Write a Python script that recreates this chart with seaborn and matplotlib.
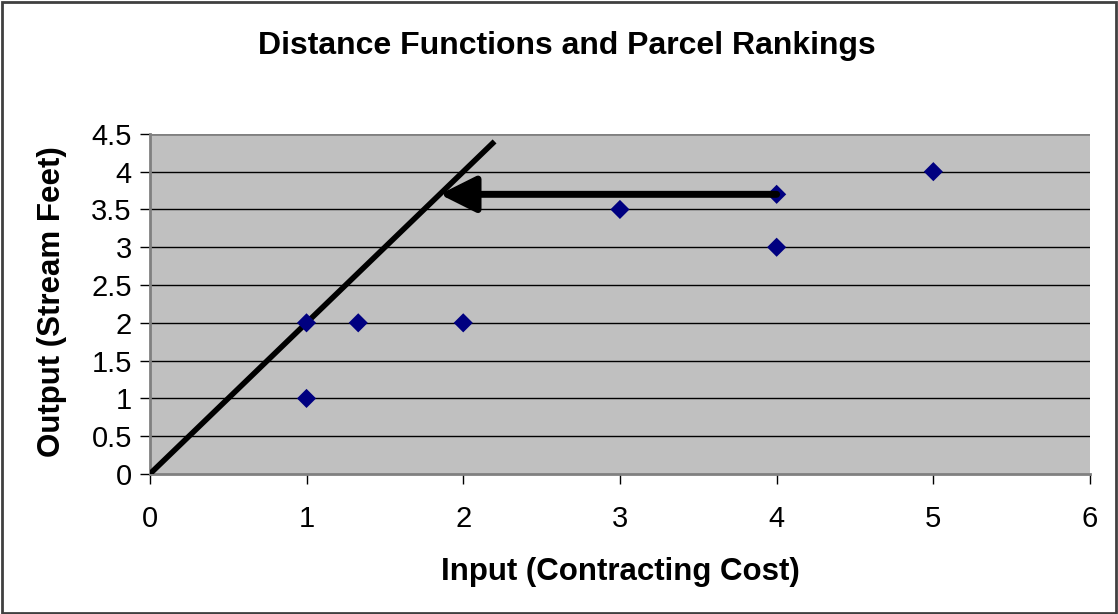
import matplotlib

matplotlib.use("Agg")
import matplotlib.pyplot as plt
import pandas as pd
import seaborn as sns

# parcel points: contracting cost vs stream feet
cost = [1, 1, 1.33, 2, 3, 4, 4, 5]
stream_feet = [2, 1, 2, 2, 3.5, 3.7, 3, 4]

# distance function frontier y = 2x
frontier_x = [0, 2.2]
frontier_y = [0, 4.4]

# arrow from parcel to frontier
arrow_start = (4, 3.7)
arrow_end = (1.85, 3.7)

y_ticks = [0, 0.5, 1, 1.5, 2, 2.5, 3, 3.5, 4, 4.5]
y_tick_labels = ["0", "0.5", "1", "1.5", "2", "2.5", "3", "3.5", "4", "4.5"]
x_ticks = [0, 1, 2, 3, 4, 5, 6]

sns.set_style("white", {"text.color": "black", "axes.labelcolor": "black",
                        "xtick.color": "black", "ytick.color": "black"})
plt.rcParams["font.family"] = ["Liberation Sans", "DejaVu Sans"]

df = pd.DataFrame({"cost": cost, "feet": stream_feet})

fig = plt.figure(figsize=(11.18, 6.14), dpi=100)
ax = fig.add_axes([0.134, 0.228, 0.841, 0.554])
ax.set_facecolor("#c0c0c0")

for y in y_ticks[1:-1]:
    ax.axhline(y, color="black", lw=1, zorder=1)
ax.axhline(4.5, color="#808080", lw=2, zorder=1)

ax.plot(frontier_x, frontier_y, color="black", lw=4, zorder=3, solid_capstyle="butt")
sns.scatterplot(data=df, x="cost", y="feet", ax=ax, marker="D", s=95,
                color="#000080", edgecolor="none", zorder=4)
ax.annotate("", xy=arrow_end, xytext=arrow_start,
            arrowprops=dict(arrowstyle="-|>,head_length=1.1,head_width=0.55",
                            mutation_scale=20, color="black", lw=5,
                            shrinkA=0, shrinkB=0),
            zorder=5)

ax.set_xlim(0, 6)
ax.set_ylim(0, 4.5)
ax.set_xticks(x_ticks)
ax.set_yticks(y_ticks)
ax.set_yticklabels(y_tick_labels)
ax.tick_params(axis="both", direction="out", length=7, width=1, color="black",
               labelcolor="black", labelsize=21, bottom=True, left=True)
ax.tick_params(axis="x", pad=15)
ax.tick_params(axis="y", pad=6)
for side in ["top", "right"]:
    ax.spines[side].set_visible(False)
for side in ["left", "bottom"]:
    ax.spines[side].set_color("#808080")
    ax.spines[side].set_linewidth(2)

ax.set_xlabel("Input (Contracting Cost)", fontsize=22.5, fontweight="bold", color="black")
ax.set_ylabel("Output (Stream Feet)", fontsize=22.5, fontweight="bold", color="black")
ax.xaxis.label.set_va("center")
ax.xaxis.set_label_coords(0.5, -0.287)
ax.yaxis.label.set_va("center")
ax.yaxis.set_label_coords(-0.104, 0.506)

fig.text(0.507, 0.925, "Distance Functions and Parcel Rankings", ha="center",
         va="center", fontsize=23, fontweight="bold", color="black")

fig.patches.append(plt.Rectangle((0.002, 0.002), 0.996, 0.995, transform=fig.transFigure,
                                 fill=False, edgecolor="#404040", lw=2))

fig.savefig("out.png", dpi=100)
